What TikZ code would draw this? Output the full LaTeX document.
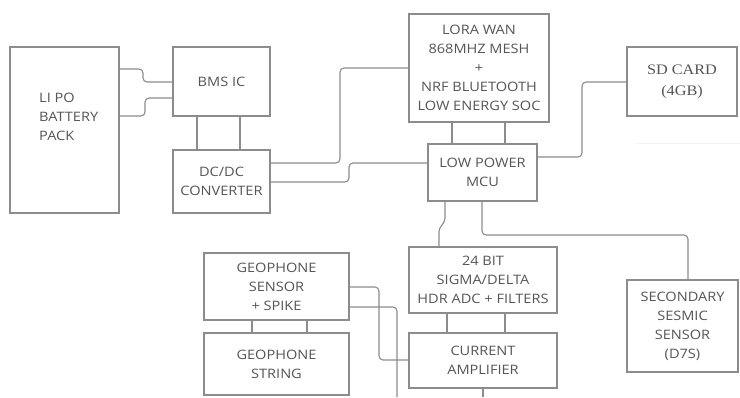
\documentclass[tikz,border=0pt]{standalone}
\usepackage{fontspec}
\setmainfont[FakeStretch=1.12]{Open Sans}
\newfontfamily\sdfont[FakeStretch=1.12]{Liberation Serif}
\definecolor{linec}{HTML}{8C8C8C}
\definecolor{textc}{HTML}{555555}
\begin{document}
\begin{tikzpicture}[x=1pt,y=-1pt,
  blk/.style={draw=linec,line width=1.1pt,rectangle,align=center,text=textc,
    font=\fontsize{13}{19}\selectfont,inner sep=0pt},
  wire/.style={draw=linec,line width=1.1pt,rounded corners=4pt}]
\useasboundingbox (0,0) rectangle (740,397);
\fill[white] (0,0) rectangle (740,397);
% blocks
\node[blk,minimum width=109pt,minimum height=166pt] (bat) at (64.5,130) {};
\node[text=textc,font=\fontsize{13}{19}\selectfont,align=left,anchor=west,inner sep=0pt] (battxt) at (39,117) {LI PO\\BATTERY\\PACK};
\node[blk,minimum width=97pt,minimum height=69pt] (bms) at (221.5,81.5) {BMS IC};
\node[blk,minimum width=97pt,minimum height=63pt] (dcdc) at (221.5,181.5) {DC/DC\\CONVERTER};
\node[blk,minimum width=140pt,minimum height=108pt] (lora) at (479,68) {LORA WAN\\868MHZ MESH\\+\\NRF BLUETOOTH\\LOW ENERGY SOC};
\node[blk,minimum width=109pt,minimum height=57pt] (mcu) at (482.5,172.5) {LOW POWER\\MCU};
\node[blk,minimum width=110pt,minimum height=69pt,font=\sdfont\fontsize{14.5}{21}\selectfont] (sd) at (682,81.5) {SD CARD\\(4GB)};
\node[blk,minimum width=148pt,minimum height=66pt] (adc) at (483,280) {24 BIT\\SIGMA/DELTA\\HDR ADC + FILTERS};
\node[blk,minimum width=148pt,minimum height=55pt] (ca) at (483,360.5) {CURRENT\\AMPLIFIER};
\node[blk,minimum width=145pt,minimum height=67pt] (geo) at (276.5,286.5) {GEOPHONE\\SENSOR\\+ SPIKE};
\node[blk,minimum width=145pt,minimum height=62pt] (str) at (276.5,364) {GEOPHONE\\STRING};
\node[blk,minimum width=111pt,minimum height=92pt] (sec) at (682.5,326) {SECONDARY\\SESMIC\\SENSOR\\(D7S)};
% free ends
\coordinate (endA) at (397,397);
\coordinate (endB) at (483,397);
% connectors
\draw[wire] (bat.east |- 0,69) -- (143,69) -- (143,82) -- (bms.west |- 0,82);
\draw[wire] (bat.east |- 0,116) -- (145,116) -- (145,98) -- (bms.west |- 0,98);
\draw[wire] (bms.south -| 197,0) -- (dcdc.north -| 197,0);
\draw[wire] (bms.south -| 240,0) -- (dcdc.north -| 240,0);
\draw[wire] (dcdc.east |- 0,163) -- (340,163) -- (340,68) -- (lora.west |- 0,68);
\draw[wire] (dcdc.east |- 0,182) -- (349,182) -- (349,163) -- (mcu.west |- 0,163);
\draw[wire] (lora.south -| 452,0) -- (mcu.north -| 452,0);
\draw[wire] (lora.south -| 505,0) -- (mcu.north -| 505,0);
\draw[wire] (mcu.east |- 0,157) -- (582,157) -- (582,82) -- (sd.west |- 0,82);
\draw[wire] (mcu.south -| 445,0) -- (445,222) -- (439,228) -- (adc.north -| 439,0);
\draw[wire] (mcu.south -| 482,0) -- (482,235) -- (688,235) -- (sec.north -| 688,0);
\draw[wire] (adc.south -| 447,0) -- (ca.north -| 447,0);
\draw[wire] (adc.south -| 505,0) -- (ca.north -| 505,0);
\draw[wire] (geo.south -| 252,0) -- (str.north -| 252,0);
\draw[wire] (geo.south -| 307,0) -- (str.north -| 307,0);
\draw[wire] (geo.east |- 0,287) -- (379,287) -- (379,360) -- (ca.west |- 0,360);
\draw[wire] (geo.east |- 0,307) -- (397,307) -- (endA);
\draw[wire] (ca.south -| endB) -- (endB);
\draw[gray!10,line width=1pt] (636,143) -- (740,143);
\end{tikzpicture}
\end{document}
